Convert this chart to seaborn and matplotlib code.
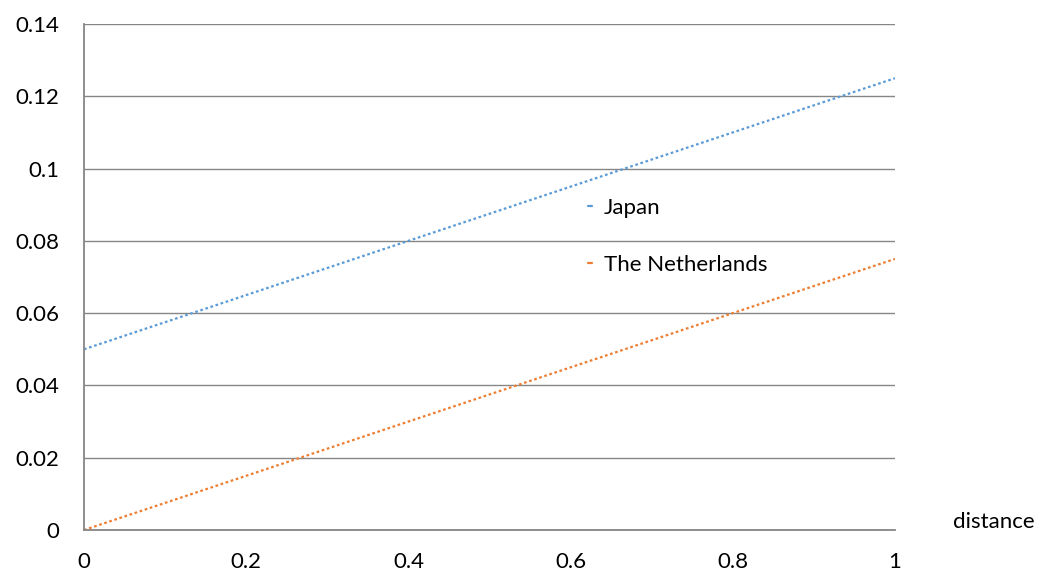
import matplotlib
matplotlib.use("Agg")
import matplotlib.pyplot as plt
import seaborn as sns
import pandas as pd

distance = [0.0, 1.0]
japan = [0.05, 0.125]
netherlands = [0.0, 0.075]
series_names = ["Japan", "The Netherlands"]
colors = ["#5B9BD5", "#ED7D31"]
x_ticks = [0, 0.2, 0.4, 0.6, 0.8, 1]
x_tick_labels = ["0", "0.2", "0.4", "0.6", "0.8", "1"]
y_ticks = [0, 0.02, 0.04, 0.06, 0.08, 0.1, 0.12, 0.14]
y_tick_labels = ["0", "0.02", "0.04", "0.06", "0.08", "0.1", "0.12", "0.14"]

df = pd.DataFrame({
    "distance": distance * 2,
    "value": japan + netherlands,
    "country": [series_names[0]] * 2 + [series_names[1]] * 2,
})

sns.set_theme(style="white")
plt.rcParams["font.family"] = ["Lato", "DejaVu Sans"]

fig = plt.figure(figsize=(10.46, 5.74), dpi=100)
ax = fig.add_axes([84 / 1046, 44 / 574, 811 / 1046, 506 / 574])

sns.lineplot(data=df, x="distance", y="value", hue="country",
             palette=colors, linestyle=(0, (1.2, 1.2)), linewidth=1.6,
             ax=ax, legend=True)

FS = 16
ax.set_xlim(0, 1)
ax.set_ylim(0, 0.14)
ax.set_xticks(x_ticks)
ax.set_xticklabels(x_tick_labels)
ax.set_yticks(y_ticks)
ax.set_yticklabels(y_tick_labels)
ax.yaxis.grid(True, color="#868686", linewidth=1.0)
ax.set_axisbelow(True)
for s in ["top", "right"]:
    ax.spines[s].set_visible(False)
for s in ["left", "bottom"]:
    ax.spines[s].set_color("#868686")
    ax.spines[s].set_linewidth(1.3)
ax.tick_params(axis="both", which="both", length=6, width=1.0, color="#868686",
               labelsize=FS, labelcolor="black", direction="out")
ax.tick_params(axis="y", pad=12)
ax.tick_params(axis="x", pad=10)
ax.set_ylabel("")
ax.set_xlabel("distance", fontsize=FS, color="black")
ax.xaxis.set_label_coords(1.122, 0.016)
ax.xaxis.label.set_verticalalignment("center")

handles, labels = ax.get_legend_handles_labels()
for h in handles:
    h.set_linestyle("-")
    h.set_linewidth(1.6)
leg = ax.legend(handles, labels, loc="center left",
                bbox_to_anchor=((568 - 84) / 811, (530 - 236.5) / 506),
                frameon=False, fontsize=FS, handlelength=0.2,
                handletextpad=0.5, labelspacing=1.66)
for t in leg.get_texts():
    t.set_color("black")

fig.savefig("out.png", dpi=100, facecolor="white")
